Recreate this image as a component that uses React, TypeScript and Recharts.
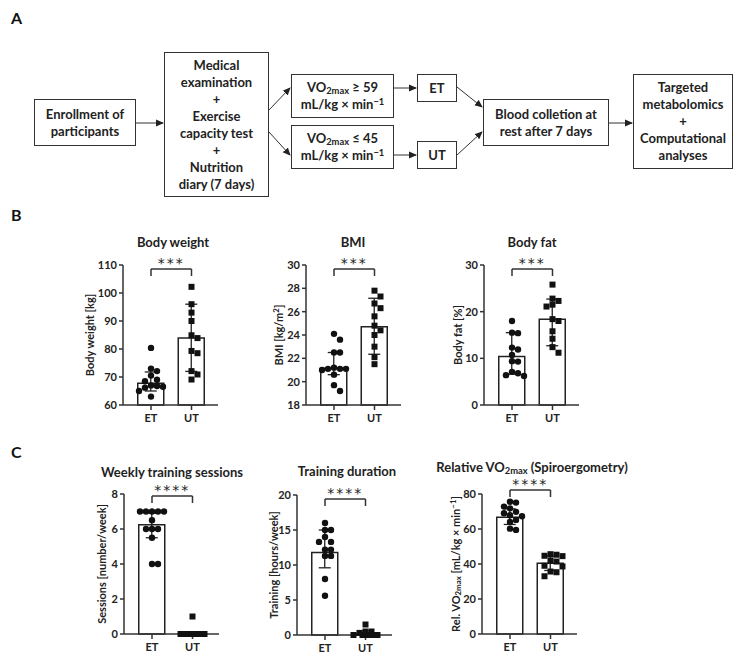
import React from 'react';
import {
  ComposedChart,
  Bar,
  ErrorBar,
  Scatter,
  XAxis,
  YAxis,
  ReferenceLine,
} from 'recharts';

const groups = ['ET', 'UT'];

// Body weight [kg]
const weightET = [80.4, 73.0, 72.1, 70.5, 69.0, 68.5, 67.0, 66.8, 66.5, 66.2, 65.0, 63.0];
const weightUT = [102.2, 96.0, 93.0, 90.0, 84.9, 83.9, 79.3, 78.5, 72.1, 70.9, 69.1];
const weightMedian = [67.8, 83.9];
const weightRange = [[65.0, 71.8], [72.0, 96.0]];
const weightTicks = [60, 70, 80, 90, 100, 110];

// BMI [kg/m2]
const bmiET = [24.1, 23.6, 22.5, 22.5, 21.2, 21.1, 21.1, 21.1, 21.0, 20.6, 19.7, 19.2];
const bmiUT = [27.8, 27.3, 26.7, 26.3, 25.6, 24.8, 24.4, 24.0, 23.0, 22.1, 21.5];
const bmiMedian = [21.15, 24.7];
const bmiRange = [[20.6, 22.5], [22.35, 27.15]];
const bmiTicks = [18, 20, 22, 24, 26, 28, 30];

// Body fat [%]
const fatET = [18.0, 15.5, 15.4, 12.3, 11.9, 10.7, 9.4, 9.3, 7.1, 6.8, 6.4, 6.2];
const fatUT = [25.8, 22.8, 22.3, 21.5, 21.1, 18.4, 18.0, 15.8, 14.2, 12.4, 11.2];
const fatMedian = [10.4, 18.4];
const fatRange = [[6.6, 15.5], [12.7, 22.7]];
const fatTicks = [0, 10, 20, 30];

// Weekly training sessions
const sessionsET = [7, 7, 7, 7, 7, 6.5, 6, 6, 6, 5.5, 4, 4];
const sessionsUT = [1, 0, 0, 0, 0, 0, 0, 0, 0, 0, 0];
const sessionsMedian = [6.25, 0];
const sessionsRange = [[5.5, 6.9], [0, 1]];
const sessionsTicks = [0, 2, 4, 6, 8];

// Training duration [hours/week]
const durationET = [16, 15, 15, 14, 13.3, 13.3, 12.2, 12.2, 11.3, 11.3, 8, 5.6];
const durationUT = [1.5, 0.5, 0.5, 0.3, 0, 0, 0, 0, 0, 0, 0];
const durationMedian = [11.8, 0.2];
const durationRange = [[9.6, 15.0], [0, 0.6]];
const durationTicks = [0, 5, 10, 15, 20];

// Relative VO2max
const vo2ET = [75.6, 75.1, 72.8, 71.8, 69.8, 69.0, 67.9, 67.3, 65.2, 64.0, 60.2, 59.5];
const vo2UT = [45.6, 45.3, 44.7, 44.5, 42.0, 41.4, 39.0, 38.6, 35.7, 35.3, 33.0];
const vo2Median = [66.7, 40.5];
const vo2Range = [[62.6, 71.5], [36.3, 44.6]];
const vo2Ticks = [0, 20, 40, 60, 80];

const FONT = 'Lato, "Open Sans", sans-serif';
const INK = '#222';

// chart geometry
const Y_W = 40;
const M_TOP = 30;
const M_R = 6;
const X_H = 25;
const PLOT_W = 95;
const PLOT_H = 140;
const CH_W = Y_W + PLOT_W + M_R;
const CH_H = M_TOP + PLOT_H + X_H;
const PX_PER_X = 40.5;
const ET_PX = 28;
const X_LO = 1 - ET_PX / PX_PER_X;
const X_HI = X_LO + PLOT_W / PX_PER_X;
// padding of the hidden category axis so its band centres sit on x = 1 and x = 2
const CAT_PAD_L = ET_PX - PX_PER_X / 2;
const CAT_PAD_R = PLOT_W - CAT_PAD_L - 2 * PX_PER_X;

const OFFSETS = [0, 6, -6, 12, -12, 3, -3, 9, -9];

// simple beeswarm so dots with close values sit side by side
function swarm(values: number[], center: number, yMin: number, yMax: number) {
  const pyu = PLOT_H / (yMax - yMin);
  const placed: { px: number; py: number }[] = [];
  return values.map((v) => {
    const py = v * pyu;
    let best = 0;
    let bestD = -1;
    for (const off of OFFSETS) {
      let d = Infinity;
      placed.forEach((p) => {
        d = Math.min(d, Math.hypot(p.px - off, p.py - py));
      });
      if (d >= 6) {
        best = off;
        break;
      }
      if (d > bestD) {
        bestD = d;
        best = off;
      }
    }
    placed.push({ px: best, py });
    return { x: center + best / PX_PER_X, y: v };
  });
}

const Dot = (props: any) => <circle cx={props.cx} cy={props.cy} r={3.2} fill="#111" />;
const Sq = (props: any) => (
  <rect x={props.cx - 3} y={props.cy - 3} width={6} height={6} fill="#111" />
);

const sub = (t: string) => (
  <sub style={{ fontSize: '0.72em', verticalAlign: '-0.25em', lineHeight: 0 }}>{t}</sub>
);
const sup = (t: string) => (
  <sup style={{ fontSize: '0.72em', verticalAlign: '0.45em', lineHeight: 0 }}>{t}</sup>
);

interface Panel {
  title: React.ReactNode;
  yLabel: React.ReactNode;
  et: number[];
  ut: number[];
  median: number[];
  range: number[][];
  ticks: number[];
  stars: string;
  axisX: number;
  top: number;
  titleX: number;
  titleY: number;
  labelX: number;
  bracketGap: number;
}

const panels: Panel[] = [
  {
    title: 'Body weight', yLabel: 'Body weight [kg]',
    et: weightET, ut: weightUT, median: weightMedian, range: weightRange, ticks: weightTicks,
    stars: '***', axisX: 123, top: 265, titleX: 173, titleY: 242, labelX: 89, bracketGap: 4,
  },
  {
    title: 'BMI', yLabel: <>BMI [kg/m{sup('2')}]</>,
    et: bmiET, ut: bmiUT, median: bmiMedian, range: bmiRange, ticks: bmiTicks,
    stars: '***', axisX: 305.5, top: 265, titleX: 353, titleY: 242, labelX: 278, bracketGap: 4,
  },
  {
    title: 'Body fat', yLabel: 'Body fat [%]',
    et: fatET, ut: fatUT, median: fatMedian, range: fatRange, ticks: fatTicks,
    stars: '***', axisX: 484, top: 265, titleX: 532, titleY: 242, labelX: 457, bracketGap: 4,
  },
  {
    title: 'Weekly training sessions', yLabel: 'Sessions [number/week]',
    et: sessionsET, ut: sessionsUT, median: sessionsMedian, range: sessionsRange, ticks: sessionsTicks,
    stars: '****', axisX: 124, top: 494, titleX: 172, titleY: 472, labelX: 101, bracketGap: 2,
  },
  {
    title: 'Training duration', yLabel: 'Training [hours/week]',
    et: durationET, ut: durationUT, median: durationMedian, range: durationRange, ticks: durationTicks,
    stars: '****', axisX: 297, top: 495, titleX: 347, titleY: 471, labelX: 273, bracketGap: 4,
  },
  {
    title: <>Relative VO{sub('2max')} (Spiroergometry)</>,
    yLabel: <>Rel. VO{sub('2max')} [mL/kg × min{sup('−1')}]</>,
    et: vo2ET, ut: vo2UT, median: vo2Median, range: vo2Range, ticks: vo2Ticks,
    stars: '****', axisX: 482, top: 494, titleX: 532, titleY: 467, labelX: 455, bracketGap: -4,
  },
];

const tickStyle = { fontSize: 11, fontWeight: 700, fill: INK, fontFamily: FONT };
const lineStyle = { stroke: '#333', strokeWidth: 1.5 };

function GroupChart({ p }: { p: Panel }) {
  const yMin = p.ticks[0];
  const yMax = p.ticks[p.ticks.length - 1];
  const rows = groups.map((g, i) => ({
    name: g,
    y: p.median[i],
    err: [p.median[i] - p.range[i][0], p.range[i][1] - p.median[i]],
  }));
  const etPts = swarm(p.et, 1, yMin, yMax);
  const utPts = swarm(p.ut, 2, yMin, yMax);
  const pyu = PLOT_H / (yMax - yMin);
  const yb = yMax - p.bracketGap / pyu;
  const yt = yb - 7 / pyu;
  const stars = p.stars;

  return (
    <div style={{ position: 'absolute', left: p.axisX - Y_W, top: p.top - M_TOP }}>
      <ComposedChart
        width={CH_W}
        height={CH_H}
        data={rows}
        margin={{ top: M_TOP, right: M_R, left: 0, bottom: 0 }}
      >
        <XAxis
          xAxisId="cat"
          dataKey="name"
          type="category"
          orientation="top"
          height={0}
          hide
          padding={{ left: CAT_PAD_L, right: CAT_PAD_R }}
        />
        <XAxis
          xAxisId="num"
          type="number"
          dataKey="x"
          domain={[X_LO, X_HI]}
          ticks={[1, 2]}
          interval={0}
          tickFormatter={(v: number) => groups[v - 1]}
          height={X_H}
          tickSize={5}
          tickMargin={4}
          axisLine={lineStyle}
          tickLine={lineStyle}
          tick={tickStyle}
        />
        <YAxis
          type="number"
          dataKey="y"
          domain={[yMin, yMax]}
          ticks={p.ticks}
          interval={0}
          width={Y_W}
          tickSize={4}
          tickMargin={2}
          axisLine={lineStyle}
          tickLine={lineStyle}
          tick={tickStyle}
        />
        <Bar
          xAxisId="cat"
          dataKey="y"
          barSize={26}
          fill="#fff"
          stroke={INK}
          strokeWidth={1.5}
          isAnimationActive={false}
        >
          <ErrorBar dataKey="err" width={6} stroke={INK} strokeWidth={1.3} direction="y" />
        </Bar>
        <Scatter xAxisId="num" data={etPts} shape={Dot} isAnimationActive={false} />
        <Scatter xAxisId="num" data={utPts} shape={Sq} isAnimationActive={false} />
        <ReferenceLine
          xAxisId="num"
          segment={[{ x: 1, y: yb }, { x: 2, y: yb }]}
          stroke="#333"
          strokeWidth={1.5}
          ifOverflow="visible"
          label={(lp: any) => {
            const vb = lp.viewBox || {};
            return (
              <text
                x={vb.x + (vb.width || 0) / 2}
                y={vb.y - 1}
                textAnchor="middle"
                fontSize={14}
                fill={INK}
                letterSpacing={2}
                fontFamily='"DejaVu Sans", sans-serif'
              >
                {stars}
              </text>
            );
          }}
        />
        <ReferenceLine xAxisId="num" segment={[{ x: 1, y: yb }, { x: 1, y: yt }]} stroke="#333" strokeWidth={1.5} ifOverflow="visible" />
        <ReferenceLine xAxisId="num" segment={[{ x: 2, y: yb }, { x: 2, y: yt }]} stroke="#333" strokeWidth={1.5} ifOverflow="visible" />
      </ComposedChart>
      <div
        style={{
          position: 'absolute',
          left: p.titleX - (p.axisX - Y_W),
          top: p.titleY - (p.top - M_TOP),
          transform: 'translate(-50%, -50%)',
          whiteSpace: 'nowrap',
          fontSize: 13,
          fontWeight: 700,
          color: INK,
          lineHeight: 1,
        }}
      >
        {p.title}
      </div>
      <div
        style={{
          position: 'absolute',
          left: p.labelX - (p.axisX - Y_W),
          top: M_TOP + PLOT_H / 2,
          transform: 'translate(-50%, -50%) rotate(-90deg)',
          whiteSpace: 'nowrap',
          fontSize: 11,
          fontWeight: 700,
          color: INK,
          lineHeight: 1,
        }}
      >
        {p.yLabel}
      </div>
    </div>
  );
}

// flow chart of panel A
const flowBoxes = [
  { left: 34, top: 99, w: 102, h: 47, lines: ['Enrollment of', 'participants'] },
  {
    left: 164, top: 52, w: 105, h: 145,
    lines: ['Medical', 'examination', '+', 'Exercise', 'capacity test', '+', 'Nutrition', 'diary (7 days)'],
  },
  { left: 291, top: 74, w: 103, h: 44, lines: [<>VO{sub('2max')} ≥ 59</>, <>mL/kg × min{sup('−1')}</>] },
  { left: 291, top: 125, w: 103, h: 44, lines: [<>VO{sub('2max')} ≤ 45</>, <>mL/kg × min{sup('−1')}</>] },
  { left: 417, top: 74, w: 40, h: 28, lines: ['ET'] },
  { left: 417, top: 141, w: 40, h: 28, lines: ['UT'] },
  { left: 483, top: 99, w: 126, h: 47, lines: ['Blood colletion at', 'rest after 7 days'] },
  { left: 633, top: 74, w: 100, h: 95, lines: ['Targeted', 'metabolomics', '+', 'Computational', 'analyses'] },
];

const flowArrows = [
  [136, 123, 163, 123],
  [269, 110, 290, 88],
  [269, 132, 290, 155],
  [394, 88, 416, 88],
  [394, 155, 416, 155],
  [457, 87, 482, 107],
  [457, 155, 482, 132],
  [609, 123, 632, 123],
];

function Flow() {
  return (
    <>
      {flowBoxes.map((b, i) => (
        <div
          key={i}
          style={{
            position: 'absolute',
            left: b.left,
            top: b.top,
            width: b.w,
            height: b.h,
            boxSizing: 'border-box',
            border: '1.5px solid #333',
            display: 'flex',
            flexDirection: 'column',
            justifyContent: 'center',
            alignItems: 'center',
            fontSize: 13,
            fontWeight: 700,
            lineHeight: '17px',
            color: INK,
            textAlign: 'center',
            whiteSpace: 'nowrap',
          }}
        >
          {b.lines.map((l, j) => (
            <div key={j}>{l}</div>
          ))}
        </div>
      ))}
      <svg width={744} height={220} style={{ position: 'absolute', left: 0, top: 0 }}>
        <defs>
          <marker id="ah" markerWidth="8" markerHeight="8" refX="7" refY="4" orient="auto" markerUnits="userSpaceOnUse">
            <path d="M0,0.5 L8,4 L0,7.5 z" fill="#222" />
          </marker>
        </defs>
        {flowArrows.map((a, i) => (
          <line key={i} x1={a[0]} y1={a[1]} x2={a[2]} y2={a[3]} stroke="#333" strokeWidth={1} markerEnd="url(#ah)" />
        ))}
      </svg>
    </>
  );
}

const letterStyle: React.CSSProperties = {
  position: 'absolute',
  fontSize: 16,
  fontWeight: 700,
  color: '#111',
  lineHeight: '20px',
};

export default function App() {
  return (
    <div
      style={{
        position: 'absolute',
        left: 0,
        top: 0,
        width: 744,
        height: 662,
        background: '#fff',
        fontFamily: FONT,
        overflow: 'hidden',
      }}
    >
      <div style={{ ...letterStyle, left: 11, top: 8 }}>A</div>
      <div style={{ ...letterStyle, left: 11, top: 205 }}>B</div>
      <div style={{ ...letterStyle, left: 11, top: 442 }}>C</div>
      <Flow />
      {panels.map((p, i) => (
        <GroupChart key={i} p={p} />
      ))}
    </div>
  );
}
